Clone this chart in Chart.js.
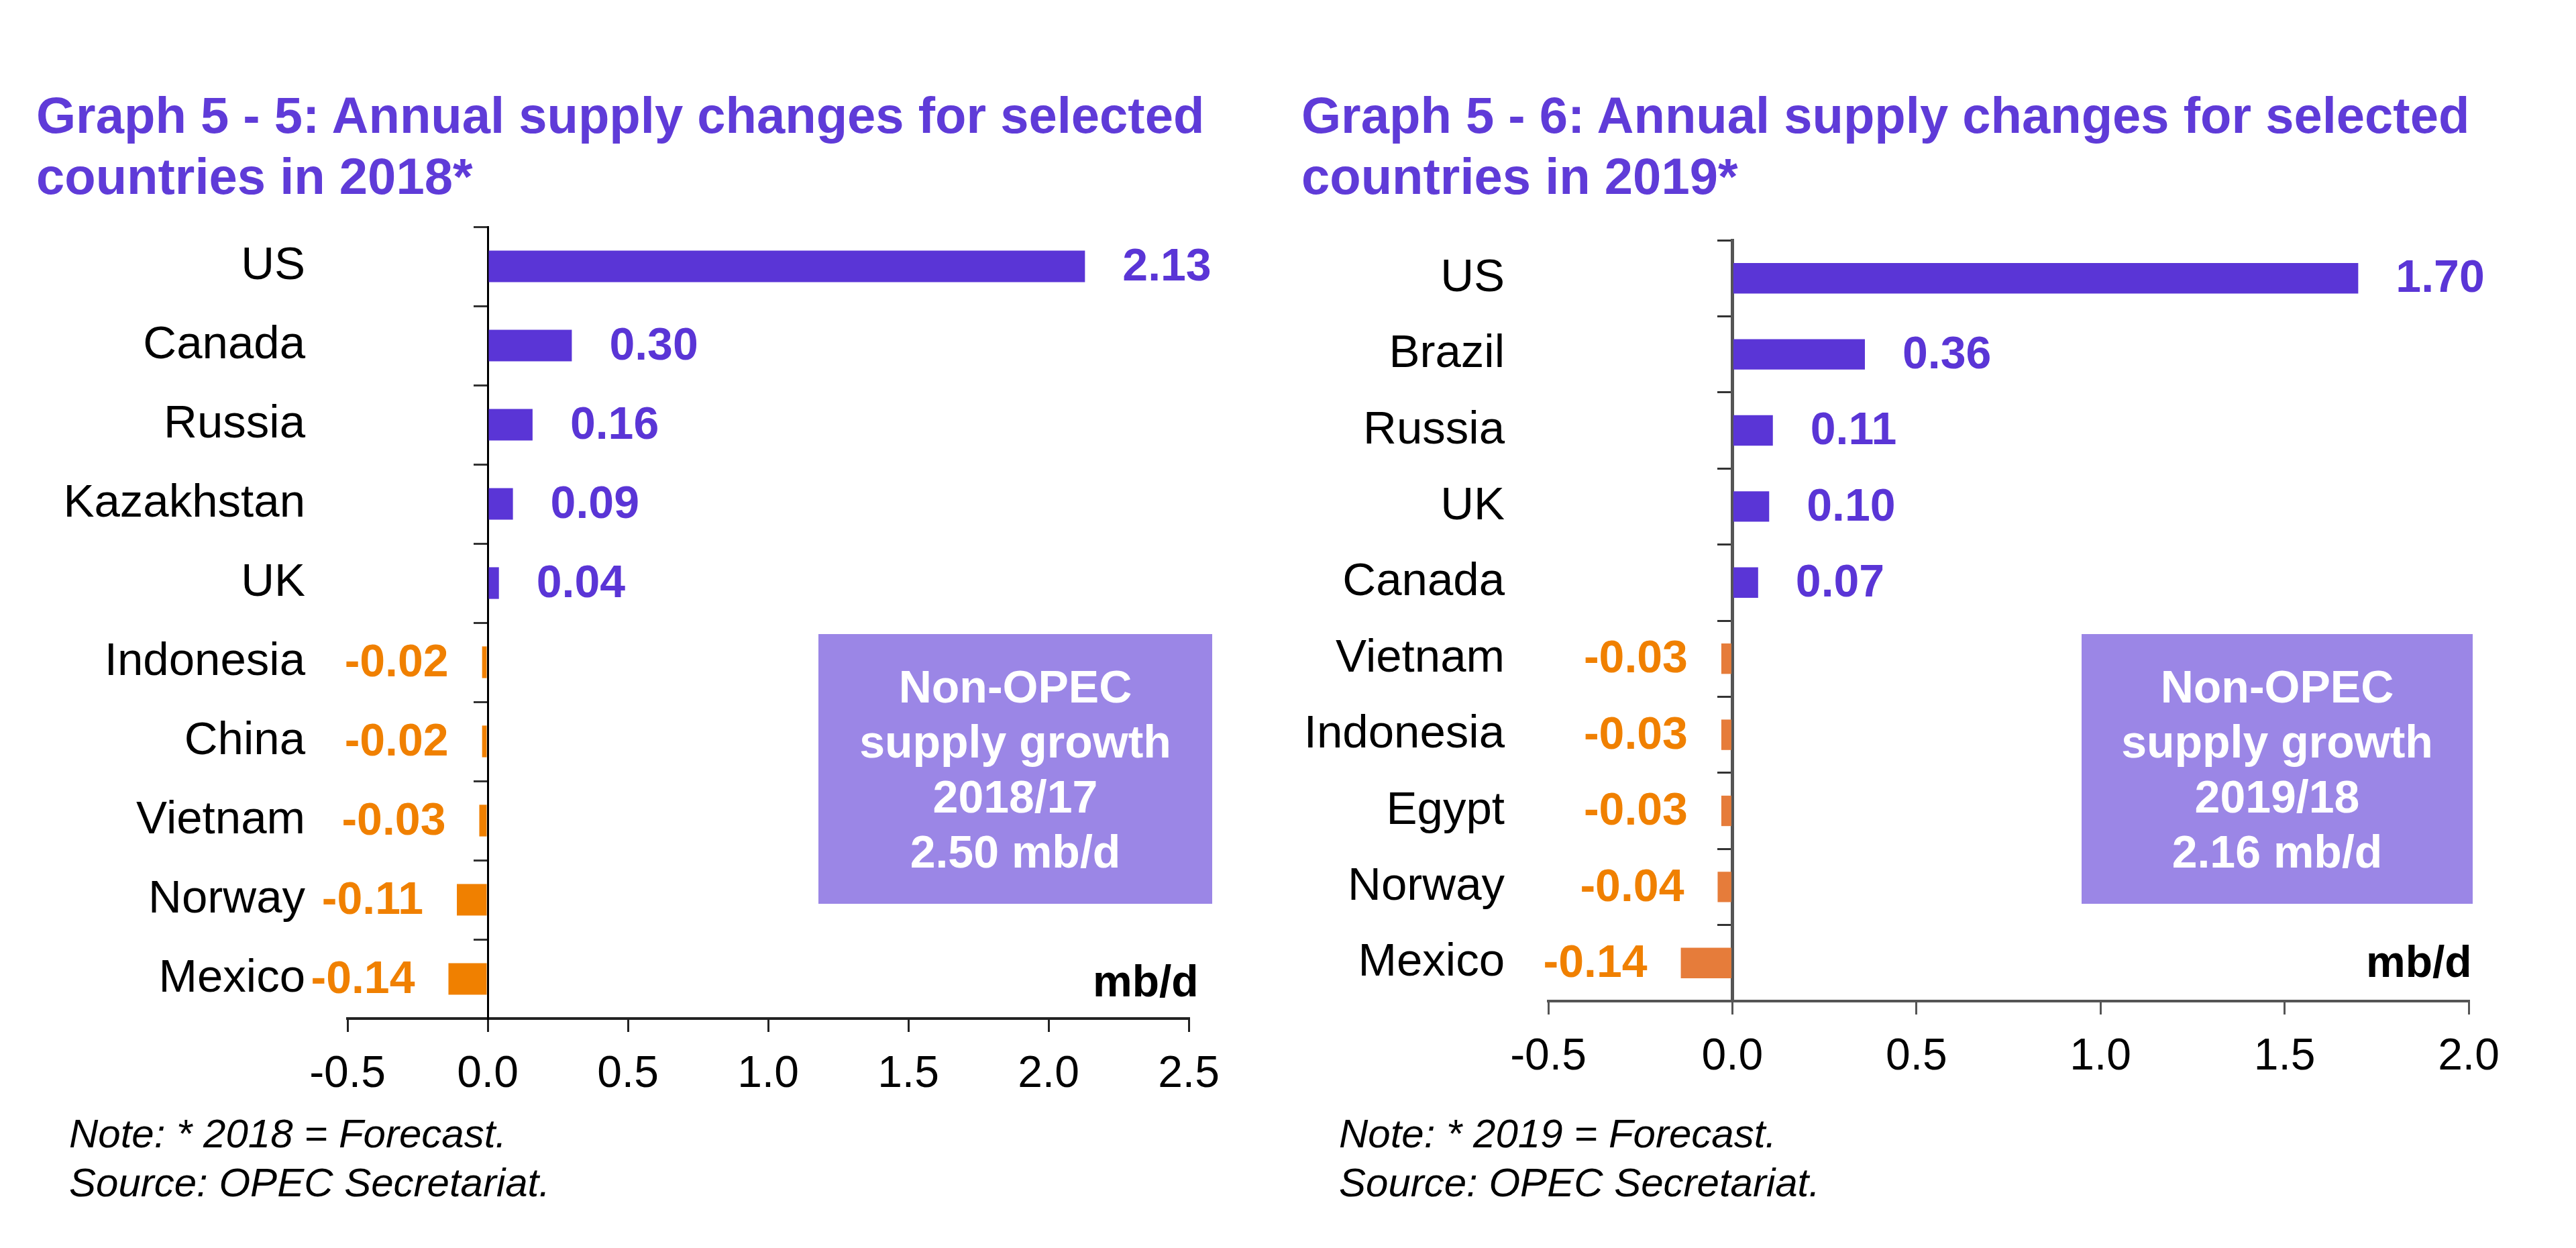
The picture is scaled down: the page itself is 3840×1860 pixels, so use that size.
<!DOCTYPE html>
<html>
<head>
<meta charset="utf-8">
<script src="https://cdn.jsdelivr.net/npm/chart.js@4.4.0/dist/chart.umd.min.js"></script>
<style>
  html, body { margin: 0; padding: 0; background: #fff; }
  body { width: 3840px; height: 1860px; position: relative; overflow: hidden; font-family: "Liberation Sans", Arial, sans-serif; }
  canvas { position: absolute; top: 0; }
  .title { position: absolute; top: 126px; color: #5f3bd8; font-weight: bold; font-size: 76px; line-height: 91px; white-space: nowrap; }
  .box { position: absolute; top: 945px; height: 402px; background: #9b86e6; color: #fff; font-weight: bold; font-size: 68px; line-height: 82px; text-align: center; display: flex; align-items: center; justify-content: center; }
  .unit { position: absolute; font-weight: bold; font-size: 66px; line-height: 80px; color: #000; }
  .note { position: absolute; top: 1653px; font-style: italic; font-size: 60px; line-height: 73px; color: #000; white-space: nowrap; }
</style>
</head>
<body>

<div class="title" style="left:54px">Graph 5 - 5: Annual supply changes for selected<br>countries in 2018*</div>
<div class="title" style="left:1940px">Graph 5 - 6: Annual supply changes for selected<br>countries in 2019*</div>

<canvas id="graf2018" width="1920" height="1860" style="left:0px"></canvas>
<canvas id="graf2019" width="1920" height="1860" style="left:1920px"></canvas>

<div class="box" style="left:1220px; width:587px">Non-OPEC<br>supply growth<br>2018/17<br>2.50 mb/d</div>
<div class="box" style="left:3103px; width:583px">Non-OPEC<br>supply growth<br>2019/18<br>2.16 mb/d</div>

<div class="unit" style="left:1629px; top:1422px">mb/d</div>
<div class="unit" style="left:3527px; top:1393px">mb/d</div>

<div class="note" style="left:103px">Note: * 2018 = Forecast.<br>Source: OPEC Secretariat.</div>
<div class="note" style="left:1996px">Note: * 2019 = Forecast.<br>Source: OPEC Secretariat.</div>

<script>
// DATOS 2018
const paises2018 = ['US', 'Canada', 'Russia', 'Kazakhstan', 'UK', 'Indonesia', 'China', 'Vietnam', 'Norway', 'Mexico'];
const cambios2018 = [2.13, 0.30, 0.16, 0.09, 0.04, -0.02, -0.02, -0.03, -0.11, -0.14];

// DATOS 2019
const paises2019 = ['US', 'Brazil', 'Russia', 'UK', 'Canada', 'Vietnam', 'Indonesia', 'Egypt', 'Norway', 'Mexico'];
const cambios2019 = [1.70, 0.36, 0.11, 0.10, 0.07, -0.03, -0.03, -0.03, -0.04, -0.14];

// eje x (mb/d)
const ejeMin = -0.5;
const ejeMax2018 = 2.5;
const ejeMax2019 = 2.0;
const paso = 0.5;

Chart.defaults.font.family = '"Liberation Sans", Arial, sans-serif';

const morado = '#5a35d6';

// etiquetas de valor al lado de cada barra
const etiquetas = {
    id: 'etiquetas',
    afterDatasetsDraw(chart) {
        const ctx = chart.ctx;
        const meta = chart.getDatasetMeta(0);
        const datos = chart.data.datasets[0].data;
        ctx.save();
        ctx.font = 'bold 68px "Liberation Sans", Arial, sans-serif';
        ctx.textBaseline = 'middle';
        meta.data.forEach((barra, i) => {
            const v = datos[i];
            if (v >= 0) {
                ctx.fillStyle = morado;
                ctx.textAlign = 'left';
                ctx.fillText(v.toFixed(2), barra.x + 56, barra.y + 2);
            } else {
                ctx.fillStyle = '#f08000';
                ctx.textAlign = 'right';
                ctx.fillText(v.toFixed(2), barra.x - 50, barra.y + 2);
            }
        });
        ctx.restore();
    }
};

function grafico(id, labels, valores, max, cfg) {
    return new Chart(document.getElementById(id), {
        type: 'bar',
        data: {
            labels: labels,
            datasets: [{
                data: valores,
                backgroundColor: valores.map(v => v < 0 ? cfg.naranja : morado),
                barPercentage: 0.4,
                categoryPercentage: 1
            }]
        },
        options: {
            indexAxis: 'y',
            responsive: false,
            animation: false,
            devicePixelRatio: 1,
            layout: { padding: cfg.padding },
            plugins: { legend: { display: false }, tooltip: { enabled: false } },
            scales: {
                x: {
                    type: 'linear',
                    min: ejeMin,
                    max: max,
                    ticks: {
                        stepSize: paso,
                        callback: v => v.toFixed(1),
                        font: { size: 66 },
                        color: '#000',
                        padding: 24,
                        maxRotation: 0
                    },
                    grid: { drawOnChartArea: false, drawTicks: true, tickLength: 20, color: cfg.colorEje, lineWidth: 3 },
                    border: { color: cfg.colorEje, width: 4 },
                    afterFit: s => { s.height = 110; }
                },
                // eje vertical en el cero (linea y marcas)
                y: {
                    position: { x: 0 },
                    ticks: { display: false },
                    grid: { drawOnChartArea: false, drawTicks: true, tickLength: 20, color: '#333', lineWidth: 3, offset: true },
                    border: { color: cfg.colorEjeY, width: cfg.anchoEjeY }
                },
                // nombres de paises a la izquierda
                paises: {
                    type: 'category',
                    axis: 'y',
                    position: 'left',
                    offset: true,
                    clip: false,
                    ticks: { font: { size: 69 }, color: '#000', padding: cfg.sepLabels, autoSkip: false },
                    grid: { display: false, drawTicks: false },
                    border: { display: false },
                    afterFit: s => { s.width = cfg.anchoPaises; }
                }
            }
        },
        plugins: [etiquetas]
    });
}

grafico('graf2018', paises2018, cambios2018, ejeMax2018, {
    naranja: '#f08000',
    colorEje: '#222',
    colorEjeY: '#000',
    anchoEjeY: 3,
    sepLabels: 63,
    anchoPaises: 480,
    padding: { left: 38, right: 148, top: 338, bottom: 232 }
});

grafico('graf2019', paises2019, cambios2019, ejeMax2019, {
    naranja: '#e67c3a',
    colorEje: '#555',
    colorEjeY: '#555',
    anchoEjeY: 5,
    sepLabels: 65,
    anchoPaises: 370,
    padding: { left: 18, right: 160, top: 358, bottom: 258 }
});
</script>
</body>
</html>
